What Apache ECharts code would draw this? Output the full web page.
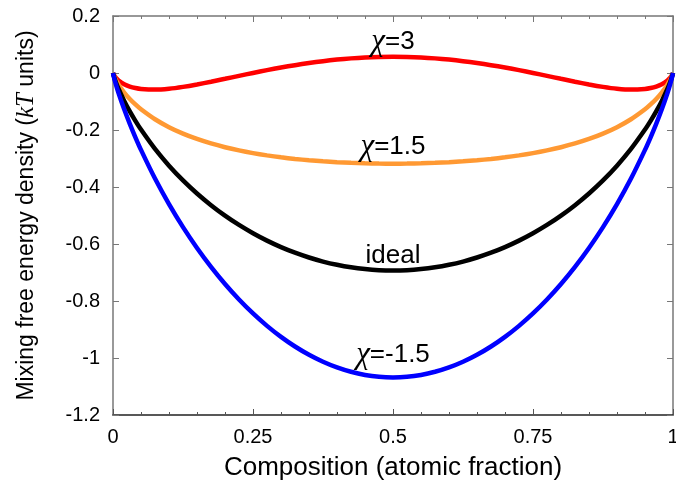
<!DOCTYPE html>
<html>
<head>
<meta charset="utf-8">
<script src="https://cdn.jsdelivr.net/npm/echarts@6/dist/echarts.min.js"></script>
<style>
  html, body { margin: 0; padding: 0; background: #fff; overflow: hidden; }
  #chart { width: 676px; height: 487px; }
</style>
</head>
<body>
<div id="chart"></div>
<script>
// Composition (atomic fraction), dense near the two pure-component ends
const composition = [
  0, 0.001, 0.005, 0.01, 0.02, 0.03, 0.04, 0.05, 0.075, 0.1, 0.125, 0.15, 0.175,
  0.2, 0.225, 0.25, 0.275, 0.3, 0.325, 0.35, 0.375, 0.4, 0.425, 0.45, 0.475, 0.5,
  0.525, 0.55, 0.575, 0.6, 0.625, 0.65, 0.675, 0.7, 0.725, 0.75, 0.775, 0.8,
  0.825, 0.85, 0.875, 0.9, 0.925, 0.95, 0.96, 0.97, 0.98, 0.99, 0.995, 0.999, 1
];

// Mixing free energy density, kT units
const chi3 = [
  0, -0.0049, -0.0166, -0.0263, -0.0392, -0.0474, -0.0527, -0.0560, -0.0583, -0.0551,
  -0.0486, -0.0402, -0.0306, -0.0204, -0.0100, 0.0002, 0.0100, 0.0191, 0.0275,
  0.0351, 0.0416, 0.0470, 0.0513, 0.0544, 0.0562, 0.0569,
  0.0562, 0.0544, 0.0513, 0.0470, 0.0416, 0.0351, 0.0275, 0.0191, 0.0100, 0.0002,
  -0.0100, -0.0204, -0.0306, -0.0402, -0.0486, -0.0551, -0.0583, -0.0560, -0.0527,
  -0.0474, -0.0392, -0.0263, -0.0166, -0.0049, 0
];
const chi15 = [
  0, -0.0064, -0.0240, -0.0412, -0.0686, -0.0911, -0.1103, -0.1273, -0.1623, -0.1901,
  -0.2127, -0.2315, -0.2472, -0.2604, -0.2716, -0.2811, -0.2891, -0.2959, -0.3015,
  -0.3062, -0.3100, -0.3130, -0.3153, -0.3169, -0.3178, -0.3181,
  -0.3178, -0.3169, -0.3153, -0.3130, -0.3100, -0.3062, -0.3015, -0.2959, -0.2891,
  -0.2811, -0.2716, -0.2604, -0.2472, -0.2315, -0.2127, -0.1901, -0.1623, -0.1273,
  -0.1103, -0.0911, -0.0686, -0.0412, -0.0240, -0.0064, 0
];
const ideal = [
  0, -0.0079, -0.0315, -0.0560, -0.0980, -0.1347, -0.1679, -0.1985, -0.2664, -0.3251,
  -0.3768, -0.4227, -0.4637, -0.5004, -0.5332, -0.5623, -0.5882, -0.6109, -0.6306,
  -0.6474, -0.6616, -0.6730, -0.6819, -0.6881, -0.6919, -0.6931,
  -0.6919, -0.6881, -0.6819, -0.6730, -0.6616, -0.6474, -0.6306, -0.6109, -0.5882,
  -0.5623, -0.5332, -0.5004, -0.4637, -0.4227, -0.3768, -0.3251, -0.2664, -0.1985,
  -0.1679, -0.1347, -0.0980, -0.0560, -0.0315, -0.0079, 0
];
const chiNeg15 = [
  0, -0.0094, -0.0389, -0.0709, -0.1274, -0.1784, -0.2255, -0.2698, -0.3704, -0.4601,
  -0.5408, -0.6140, -0.6803, -0.7404, -0.7947, -0.8436, -0.8872, -0.9259, -0.9597,
  -0.9887, -1.0131, -1.0330, -1.0484, -1.0595, -1.0660, -1.0681,
  -1.0660, -1.0595, -1.0484, -1.0330, -1.0131, -0.9887, -0.9597, -0.9259, -0.8872,
  -0.8436, -0.7947, -0.7404, -0.6803, -0.6140, -0.5408, -0.4601, -0.3704, -0.2698,
  -0.2255, -0.1784, -0.1274, -0.0709, -0.0389, -0.0094, 0
];

const xTickLabels = { 0: '0', 0.25: '0.25', 0.5: '0.5', 0.75: '0.75', 1: '1' };

const SANS = '"Liberation Sans", Arial, sans-serif';
const SERIF = '"Liberation Serif", "DejaVu Serif", serif';
const curveRich = {
  c: { fontFamily: SERIF, fontStyle: 'italic', fontSize: 31, color: '#000' }
};

// index of the equimolar point, where each curve carries its tag
const mid = composition.indexOf(0.5);

function curve(name, values, color, tag, lift) {
  return {
    name: name,
    type: 'line',
    smooth: 0.25,
    showSymbol: false,
    symbol: 'none',
    lineStyle: { color: color, width: 4.5 },
    z: 3,
    data: composition.map((x, i) => [x, values[i]]),
    markPoint: {
      symbol: 'circle',
      symbolSize: 1,
      itemStyle: { color: 'rgba(0,0,0,0)' },
      silent: true,
      label: {
        show: true,
        position: 'top',
        distance: 0,
        offset: [0, -lift],
        formatter: tag,
        fontFamily: SANS,
        fontSize: 26,
        color: '#000',
        rich: curveRich
      },
      data: [{ coord: [composition[mid], values[mid]] }]
    }
  };
}

const chart = echarts.init(document.getElementById('chart'), null, { renderer: 'canvas' });

const edge = '#777';
chart.setOption({
  animation: false,
  backgroundColor: '#fff',
  grid: { left: 113, right: 3, top: 16, bottom: 72, containLabel: false, outerBoundsMode: 'none' },
  xAxis: [
    {
      type: 'value', min: 0, max: 1, interval: 0.25, position: 'bottom',
      name: 'Composition (atomic fraction)', nameLocation: 'middle', nameGap: 40,
      nameTextStyle: { fontFamily: SANS, fontSize: 26, color: '#000' },
      axisLine: { show: true, onZero: false, lineStyle: { color: '#222', width: 1.5 } },
      axisTick: { show: true, inside: true, length: 6, lineStyle: { color: '#555' } },
      minorTick: { show: true, splitNumber: 5, length: 3, lineStyle: { color: '#555' } },
      splitLine: { show: false },
      axisLabel: {
        margin: 12, fontFamily: SANS, fontSize: 20, color: '#000',
        hideOverlap: false, showMinLabel: true, showMaxLabel: true,
        formatter: v => xTickLabels[v] !== undefined ? xTickLabels[v] : ''
      }
    },
    {
      type: 'value', min: 0, max: 1, interval: 0.25, position: 'top',
      axisLine: { show: true, onZero: false, lineStyle: { color: edge, width: 1.5 } },
      axisTick: { show: true, inside: true, length: 6, lineStyle: { color: edge } },
      minorTick: { show: true, splitNumber: 5, length: 3, lineStyle: { color: edge } },
      splitLine: { show: false },
      axisLabel: { show: false }
    }
  ],
  yAxis: [
    {
      type: 'value', min: -1.2, max: 0.2, interval: 0.2, position: 'left',
      name: '{t|Mixing free energy density (}{k|kT}{t| units)}',
      nameLocation: 'middle', nameGap: 74, nameRotate: 90,
      nameTextStyle: {
        rich: {
          t: { fontFamily: SANS, fontSize: 23, color: '#000' },
          k: { fontFamily: SERIF, fontStyle: 'italic', fontSize: 25, color: '#000' }
        }
      },
      axisLine: { show: true, onZero: false, lineStyle: { color: edge, width: 1.5 } },
      axisTick: { show: true, inside: true, length: 6, lineStyle: { color: edge } },
      splitLine: { show: false },
      axisLabel: {
        margin: 13, fontFamily: SANS, fontSize: 20, color: '#000',
        formatter: v => String(Math.round(v * 10) / 10)
      }
    },
    {
      type: 'value', min: -1.2, max: 0.2, interval: 0.2, position: 'right',
      axisLine: { show: true, onZero: false, lineStyle: { color: edge, width: 1.5 } },
      axisTick: { show: true, inside: true, length: 6, lineStyle: { color: edge } },
      splitLine: { show: false },
      axisLabel: { show: false }
    }
  ],
  series: [
    curve('χ=3', chi3, '#ff0000', '{c|χ}=3', -1),
    curve('χ=1.5', chi15, '#ff9933', '{c|χ}=1.5', 1),
    curve('ideal', ideal, '#000000', 'ideal', 1),
    curve('χ=-1.5', chiNeg15, '#0000ff', '{c|χ}=-1.5', 7)
  ]
});
</script>
</body>
</html>
